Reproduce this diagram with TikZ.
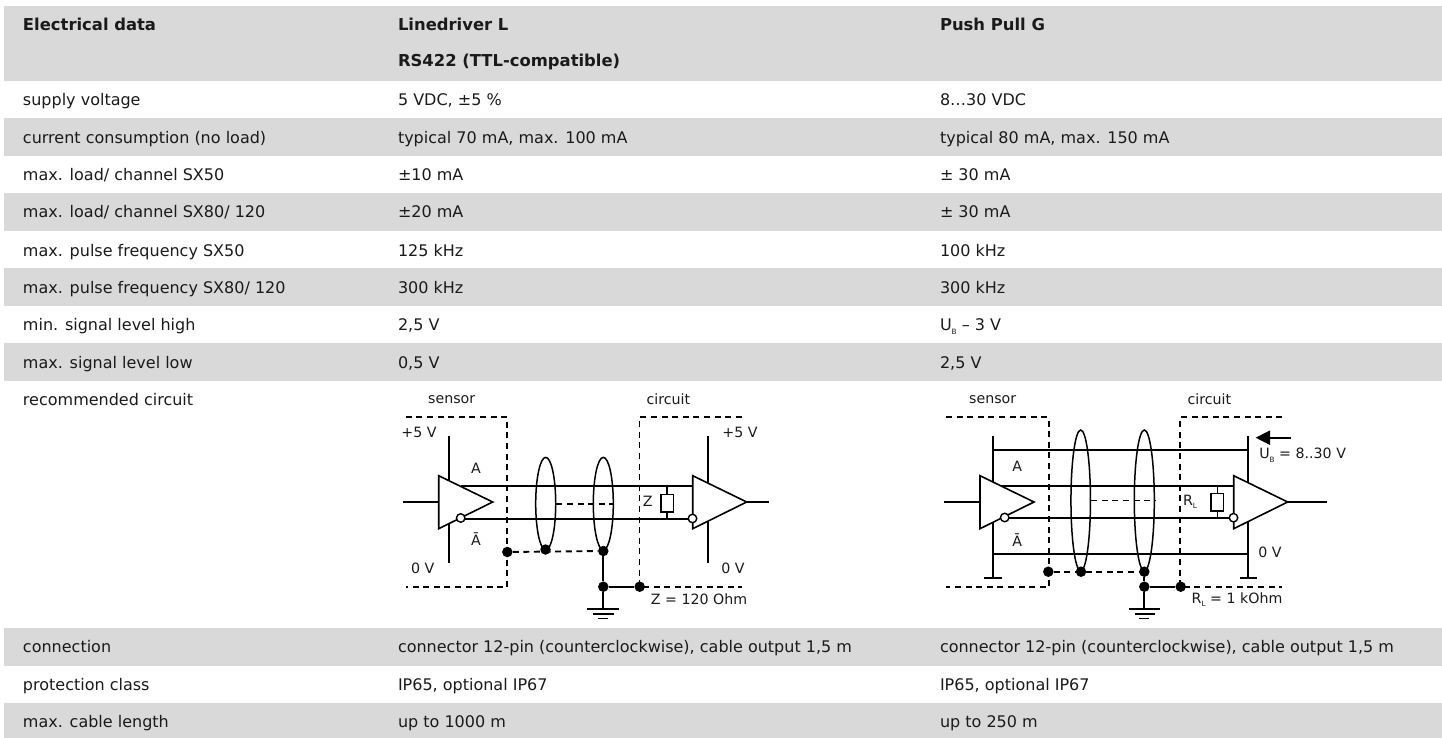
\documentclass[tikz,border=0pt]{standalone}
\usepackage{fontspec}
\setmainfont{DejaVu Sans}
\definecolor{rowgray}{HTML}{D9D9D9}
\definecolor{ink}{HTML}{1A1A1A}
\newcommand{\subL}[1]{\raisebox{-3.5pt}{\fontsize{7.3}{8}\selectfont #1}}
\tikzset{
  cell/.style={anchor=base west,inner sep=0pt,outer sep=0pt,text=ink,font=\fontsize{16}{18}\selectfont},
  headcell/.style={cell,font=\fontsize{16.4}{18}\selectfont\bfseries},
  lab/.style={anchor=center,inner sep=0pt,outer sep=0pt,text=ink,font=\fontsize{14.2}{17}\selectfont},
  labw/.style={lab,anchor=west},
  wire/.style={draw=black,line width=1.9pt},
  thin wire/.style={draw=black,line width=1.5pt},
  dashwire/.style={draw=black,line width=1.9pt,dash pattern=on 6pt off 4.6pt},
  amp/.style={draw=black,fill=white,line width=1.6pt,line join=miter},
  bubble/.style={circle,draw=black,fill=white,line width=1.4pt,minimum size=8.5pt,inner sep=0pt},
  dot/.style={circle,fill=black,minimum size=10.5pt,inner sep=0pt},
  res/.style={draw=black,fill=white,line width=1.6pt,minimum width=12.6pt,minimum height=17.6pt,inner sep=0pt},
  shield/.style={ellipse,draw=black,line width=1.5pt,inner sep=0pt},
}
\usetikzlibrary{shapes.geometric,arrows.meta}
\begin{document}
\begin{tikzpicture}[x=1pt,y=-1pt]
\useasboundingbox (0,0) rectangle (1442,738);
% row bands
\foreach \a/\b in {6/81,118/156,193/231,268/306,343/381,628/666,703/738}
  \fill[rowgray] (4,\a) rectangle (1442,\b);
% table text
\node[headcell] (h1) at (23,30.7) {Electrical data};
\node[headcell] (h2) at (398,30.7) {Linedriver L};
\node[headcell] (h3) at (940,30.7) {Push Pull G};
\node[headcell] (h4) at (398,66.7) {RS422 (TTL-compatible)};
\node[cell] (a1) at (23,106) {supply voltage};
\node[cell] (b1) at (398,106) {5 VDC, ±5 \%};
\node[cell] (c1) at (940,106) {8…30 VDC};
\node[cell] (a2) at (23,143.3) {current consumption (no load)};
\node[cell] (b2) at (398,143.3) {typical 70 mA, max. 100 mA};
\node[cell] (c2) at (940,143.3) {typical 80 mA, max. 150 mA};
\node[cell] (a3) at (23,181) {max. load/ channel SX50};
\node[cell] (b3) at (398,181) {±10 mA};
\node[cell] (c3) at (940,181) {± 30 mA};
\node[cell] (a4) at (23,218) {max. load/ channel SX80/ 120};
\node[cell] (b4) at (398,218) {±20 mA};
\node[cell] (c4) at (940,218) {± 30 mA};
\node[cell] (a5) at (23,256) {max. pulse frequency SX50};
\node[cell] (b5) at (398,256) {125 kHz};
\node[cell] (c5) at (940,256) {100 kHz};
\node[cell] (a6) at (23,293.3) {max. pulse frequency SX80/ 120};
\node[cell] (b6) at (398,293.3) {300 kHz};
\node[cell] (c6) at (940,293.3) {300 kHz};
\node[cell] (a7) at (23,330.5) {min. signal level high};
\node[cell] (b7) at (398,330.5) {2,5 V};
\node[cell] (c7) at (940,330.5) {U\subL{B} – 3 V};
\node[cell] (a8) at (23,368.3) {max. signal level low};
\node[cell] (b8) at (398,368.3) {0,5 V};
\node[cell] (c8) at (940,368.3) {2,5 V};
\node[cell] (a9) at (23,405) {recommended circuit};
\node[cell] (a10) at (23,652.3) {connection};
\node[cell] (b10) at (398,652.3) {connector 12-pin (counterclockwise), cable output 1,5 m};
\node[cell] (c10) at (940,652.3) {connector 12-pin (counterclockwise), cable output 1,5 m};
\node[cell] (a11) at (23,690) {protection class};
\node[cell] (b11) at (398,690) {IP65, optional IP67};
\node[cell] (c11) at (940,690) {IP65, optional IP67};
\node[cell] (a12) at (23,727.7) {max. cable length};
\node[cell] (b12) at (398,727.7) {up to 1000 m};
\node[cell] (c12) at (940,727.7) {up to 250 m};

% ===== Left circuit =====
\coordinate (Ls1) at (405.7,417.3); \coordinate (Ls2) at (507.3,417.3);
\coordinate (Ls3) at (507.3,587.3); \coordinate (Ls4) at (405.7,587.3);
\coordinate (Lc1) at (741.7,417.3); \coordinate (Lc2) at (639.5,417.3);
\coordinate (Lc3) at (639.5,587.3); \coordinate (Lc4) at (741.7,587.3);
\draw[dashwire] (Ls1) -- (Ls2) -- (Ls3) -- (Ls4);
\draw[dashwire] (Lc1) -- (Lc2) -- (Lc3) -- (Lc4);
\coordinate (Lv1t) at (448.7,436); \coordinate (Lv1b) at (448.7,563);
\coordinate (Lv2t) at (707.7,436); \coordinate (Lv2b) at (707.7,563);
\draw[wire] (Lv1t) -- (Lv1b);
\draw[wire] (Lv2t) -- (Lv2b);
\coordinate (LA1) at (461,486.3); \coordinate (LA2) at (692.7,486.3);
\coordinate (LB1) at (461,518.7); \coordinate (LB2) at (692,518.7);
\draw[wire] (LA1) -- (LA2);
\draw[wire] (LB1) -- (LB2);
\node[shield,minimum width=20pt,minimum height=92.7pt] (Le1) at (545.7,503.7) {};
\node[shield,minimum width=20pt,minimum height=92.7pt] (Le2) at (603.3,503.7) {};
\draw[dashwire] (Le1.east) -- (Le2.east);
\coordinate (Lin) at (402.7,502); \coordinate (Lout) at (769.3,502);
\draw[wire] (Lin) -- (438.7,502);
\draw[wire] (746.7,502) -- (Lout);
\draw[amp] (438.7,475.7) -- (492.7,502) -- (438.7,528.7) -- cycle;
\draw[amp] (692.7,475.7) -- (746.7,502) -- (692.7,528.7) -- cycle;
\node[bubble] (Lb1) at (460.7,518) {};
\node[bubble] (Lb2) at (692.5,518.5) {};
\node[res] (Lr) at (667,503.2) {};
\draw[thin wire] (Lr.north) -- (667,486.3);
\draw[thin wire] (Lr.south) -- (667,518.7);
\node[dot] (Ld1) at (507.3,552) {};
\node[dot] (Ld2) at (545.5,549.5) {};
\node[dot] (Ld3) at (603.3,551) {};
\node[dot] (Ld4) at (603.3,586.7) {};
\node[dot] (Ld5) at (639.7,586.7) {};
\draw[dashwire] (Ld1) -- (Ld3);
\draw[wire] (Ld3) -- (Ld4);
\draw[wire] (Ld4) -- (Ld5);
\coordinate (Lg) at (603.3,609.3);
\draw[wire] (Ld4) -- (Lg);
\draw[wire] (587.3,609.3) -- (619.3,609.3);
\draw[wire] (593.3,614.3) -- (613.5,614.3);
\draw[wire] (598.3,618.5) -- (608.3,618.5);
\node[lab] (Lt1) at (451.7,399.5) {sensor};
\node[lab] (Lt2) at (668.3,399.5) {circuit};
\node[lab] (Lt3) at (419,432.3) {+5 V};
\node[lab] (Lt4) at (740,432.3) {+5 V};
\node[lab] (Lt5) at (476,468) {A};
\node[lab] (Lt6) at (476,539) {Ā};
\node[lab] (Lt7) at (422.7,568.7) {0 V};
\node[lab] (Lt8) at (733,568.7) {0 V};
\node[lab] (Lt9) at (647.7,501.7) {Z};
\node[lab] (Lt10) at (699,599.5) {Z = 120 Ohm};

% ===== Right circuit =====
\coordinate (Rs1) at (946,417.3); \coordinate (Rs2) at (1048.7,417.3);
\coordinate (Rs3) at (1048.7,587.3); \coordinate (Rs4) at (946,587.3);
\coordinate (Rc1) at (1282.3,417.3); \coordinate (Rc2) at (1180.2,417.3);
\coordinate (Rc3) at (1180.2,587.3); \coordinate (Rc4) at (1282.3,587.3);
\draw[dashwire] (Rs1) -- (Rs2) -- (Rs3) -- (Rs4);
\draw[dashwire] (Rc1) -- (Rc2) -- (Rc3) -- (Rc4);
\coordinate (Rv1t) at (992.7,436); \coordinate (Rv1b) at (992.7,578.3);
\coordinate (Rv2t) at (1248.3,436); \coordinate (Rv2b) at (1248.3,578.3);
\draw[wire] (Rv1t) -- (Rv1b);
\draw[wire] (Rv2t) -- (Rv2b);
\draw[wire] (984.3,578.3) -- (1001.7,578.3);
\draw[wire] (1240,578.3) -- (1257.3,578.3);
\draw[wire] (992.7,449.7) -- (1248.3,449.7);
\draw[wire] (992.7,553.7) -- (1248.3,553.7);
\draw[wire] (1001,486.3) -- (1233.7,486.3);
\draw[wire] (1005,517.7) -- (1233,517.7);
\node[shield,minimum width=19.5pt,minimum height=141pt] (Re1) at (1080.7,500.5) {};
\node[shield,minimum width=20pt,minimum height=141pt] (Re2) at (1144.3,500.5) {};
\draw[dashwire] (Re1.east) -- (Re2.east);
\coordinate (Rin) at (944.3,502); \coordinate (Rout) at (1327.3,502);
\draw[wire] (Rin) -- (980,502);
\draw[wire] (1287.7,502) -- (Rout);
\draw[amp] (980,475.7) -- (1034,502) -- (980,528.7) -- cycle;
\draw[amp] (1233.7,475.7) -- (1287.7,502) -- (1233.7,528.7) -- cycle;
\node[bubble] (Rb1) at (1004.7,517.5) {};
\node[bubble] (Rb2) at (1233.5,517.7) {};
\node[res] (Rr) at (1217.3,502.3) {};
\draw[thin wire] (Rr.north) -- (1217.3,486.3);
\draw[thin wire] (Rr.south) -- (1217.3,517.7);
\node[dot] (Rd1) at (1048.3,571.7) {};
\node[dot] (Rd2) at (1081,571.7) {};
\node[dot] (Rd3) at (1144.3,571.7) {};
\node[dot] (Rd4) at (1144.3,586.7) {};
\node[dot] (Rd5) at (1180.7,586.7) {};
\draw[dashwire] (Rd1) -- (Rd3);
\draw[wire] (Rd3) -- (Rd4);
\draw[wire] (Rd4) -- (Rd5);
\coordinate (Rg) at (1144.3,609.3);
\draw[wire] (Rd4) -- (Rg);
\draw[wire] (1128.7,609.3) -- (1160,609.3);
\draw[wire] (1134.7,614.3) -- (1154.5,614.3);
\draw[wire] (1139.3,618.5) -- (1149.3,618.5);
\coordinate (Ra1) at (1290.7,437.7); \coordinate (Ra2) at (1269,437.7);
\draw[wire] (Ra1) -- (Ra2);
\fill[black] (1255.7,437.7) -- (1270,430.4) -- (1270,445) -- cycle;
\node[lab] (Rt1) at (992.7,399.5) {sensor};
\node[lab] (Rt2) at (1209.3,399.5) {circuit};
\node[lab] (Rt3) at (1017.3,466) {A};
\node[lab] (Rt4) at (1017.3,540.5) {Ā};
\node[labw] (Rt5) at (1259.3,455) {U\subL{B} = 8..30 V};
\node[lab] (Rt6) at (1270,552.7) {0 V};
\node[labw] (Rt7) at (1183,502) {R\subL{L}};
\node[labw] (Rt8) at (1191.7,599.7) {R\subL{L} = 1 kOhm};
\end{tikzpicture}
\end{document}
